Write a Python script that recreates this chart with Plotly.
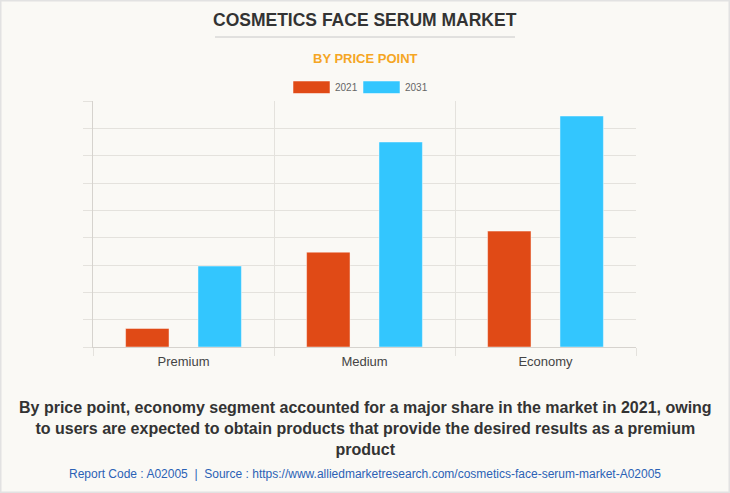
import plotly.graph_objects as go

categories = ["Premium", "Medium", "Economy"]
series_names = ["2021", "2031"]
values_2021 = [0.68, 3.47, 4.24]
values_2031 = [2.96, 7.5, 8.45]
colors = ["#e04a16", "#33c6fe"]

fig = go.Figure()
for name, vals, col in zip(series_names, [values_2021, values_2031], colors):
    fig.add_trace(go.Bar(
        x=categories, y=vals, name=name,
        marker=dict(color=col, line=dict(color="rgba(255,255,255,0.45)", width=1)),
        showlegend=False,
    ))

BG = "#faf9f5"
GRID = "#e4e2dd"
fig.update_layout(
    width=730, height=493,
    paper_bgcolor=BG, plot_bgcolor=BG,
    margin=dict(l=93, r=94, t=101, b=146),
    barmode="group", bargap=0.2, bargroupgap=0.4,
    font=dict(family="Liberation Sans, Arial, sans-serif", color="#555"),
    xaxis=dict(
        tickson="boundaries", showgrid=True, gridcolor=GRID, gridwidth=1,
        ticks="outside", ticklen=8, tickcolor=GRID,
        showline=True, linecolor="#d6d3ce", linewidth=1,
        tickfont=dict(size=13, color="#444"), ticklabelstandoff=2,
    ),
    yaxis=dict(
        range=[0, 9], dtick=1, showgrid=True, gridcolor=GRID, gridwidth=1,
        ticks="outside", ticklen=9, tickcolor=GRID, showticklabels=False,
        showline=True, linecolor="#d6d3ce", linewidth=1, zeroline=False,
    ),
)

# page border
fig.add_shape(type="rect", xref="paper", yref="paper", x0=-93/543, x1=1+94/543,
              y0=-146/246, y1=1+101/246, line=dict(color="#e2e2e2", width=3),
              fillcolor="rgba(0,0,0,0)", layer="above")

def px_x(px):
    return (px - 93) / 543

def px_y(py):
    return (347 - py) / 246

# title
fig.add_annotation(text="<b>COSMETICS FACE SERUM MARKET</b>", xref="paper", yref="paper",
                   x=px_x(365), y=px_y(20), showarrow=False, xanchor="center", yanchor="middle",
                   font=dict(size=17.5, color="#333", family="Liberation Sans, Arial, sans-serif"))
fig.add_shape(type="line", xref="paper", yref="paper", x0=px_x(215), x1=px_x(515),
              y0=px_y(37), y1=px_y(37), line=dict(color="#c8c8c8", width=1))
fig.add_annotation(text="<b>BY PRICE POINT</b>", xref="paper", yref="paper",
                   x=px_x(365), y=px_y(58), showarrow=False, xanchor="center", yanchor="middle",
                   font=dict(size=13, color="#f5a623", family="Liberation Sans, Arial, sans-serif"))

# legend (manual)
for name, col, x0 in zip(series_names, colors, [293, 363]):
    fig.add_shape(type="rect", xref="paper", yref="paper", x0=px_x(x0), x1=px_x(x0 + 37),
                  y0=px_y(93.5), y1=px_y(81), fillcolor=col,
                  line=dict(color="rgba(255,255,255,0.5)", width=1))
    fig.add_annotation(text=name, xref="paper", yref="paper", x=px_x(x0 + 40), y=px_y(87),
                       showarrow=False, xanchor="left", yanchor="middle",
                       font=dict(size=10, color="#666"))

fig.add_annotation(
    text="<b>By price point, economy segment accounted for a major share in the market in 2021, owing<br>"
         "to users are expected to obtain products that provide the desired results as a premium<br>"
         "product</b>",
    xref="paper", yref="paper", x=px_x(365), y=px_y(428), showarrow=False,
    xanchor="center", yanchor="middle", align="center",
    font=dict(size=16, color="#333", family="Liberation Sans, Arial, sans-serif"))
fig.add_annotation(
    text="Report Code : A02005  |  Source : https://www.alliedmarketresearch.com/cosmetics-face-serum-market-A02005",
    xref="paper", yref="paper", x=px_x(365), y=px_y(474), showarrow=False,
    xanchor="center", yanchor="middle",
    font=dict(size=12, color="#2b62b5", family="Liberation Sans Narrow, Arial Narrow, sans-serif"))

fig.write_html("out.html")
